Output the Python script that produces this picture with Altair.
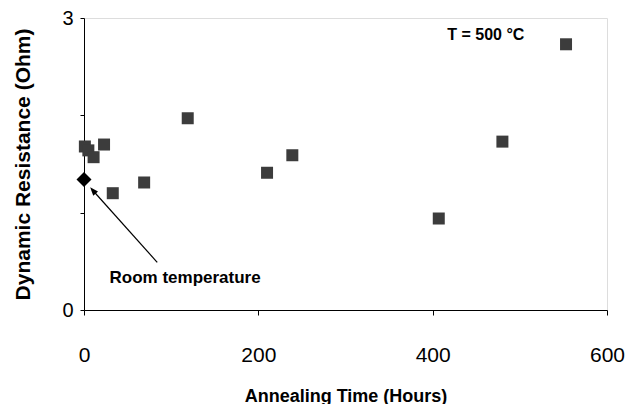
import altair as alt
import pandas as pd

# Annealed samples (T = 500 °C)
hours = [1, 5, 11, 23, 33, 69, 119, 210, 239, 407, 480, 553]
resistance = [1.68, 1.64, 1.57, 1.70, 1.20, 1.31, 1.97, 1.41, 1.59, 0.94, 1.73, 2.73]

# Room temperature reference
rt_hours = [0]
rt_resistance = [1.34]

x_ticks = [0, 200, 400, 600]
y_ticks = [0, 1, 2, 3]

df = pd.DataFrame({"t": hours, "r": resistance})
df_rt = pd.DataFrame({"t": rt_hours, "r": rt_resistance})

xs = alt.Scale(domain=[0, 600], nice=False, zero=False)
ys = alt.Scale(domain=[0, 3], nice=False, zero=False)

FONT = "Liberation Sans"

x_axis = alt.Axis(values=x_ticks, grid=False, labelFontSize=21, labelFont=FONT,
                  labelColor="black", labelPadding=29, tickSize=5, tickColor="black",
                  domainColor="black", titleFontSize=18, titleFont=FONT,
                  titleFontWeight="bold", titleColor="black", titlePadding=22,
                  labelFlush=False, format="d")
y_axis = alt.Axis(values=y_ticks, grid=False, labelFontSize=20, labelFont=FONT,
                  labelColor="black", labelPadding=7, tickSize=4, tickColor="black",
                  domainColor="black", titleFontSize=21, titleFont=FONT,
                  titleFontWeight="bold", titleColor="black", titlePadding=28,
                  labelExpr="datum.value == 0 || datum.value == 3 ? format(datum.value, 'd') : ''",
                  labelFlush=False)

pts = alt.Chart(df).mark_point(shape="square", filled=True, size=144,
                               color="#3c3c3c", opacity=1).encode(
    x=alt.X("t:Q", scale=xs, axis=x_axis, title="Annealing Time (Hours)"),
    y=alt.Y("r:Q", scale=ys, axis=y_axis, title="Dynamic Resistance (Ohm)"),
)

rt = alt.Chart(df_rt).mark_point(shape="diamond", filled=True, size=225,
                                 color="black", opacity=1).encode(
    x=alt.X("t:Q", scale=xs), y=alt.Y("r:Q", scale=ys))

# Arrow annotation (data coordinates)
arrow_df = pd.DataFrame({"t": [84], "r": [0.49], "t2": [11], "r2": [1.22]})
arrow = alt.Chart(arrow_df).mark_rule(color="black", strokeWidth=1.2).encode(
    x=alt.X("t:Q", scale=xs), y=alt.Y("r:Q", scale=ys), x2="t2:Q", y2="r2:Q")
head = alt.Chart(arrow_df).mark_point(
    shape="M0,-1L0.6,0.6L-0.6,0.6Z", filled=True, size=110, color="black",
    opacity=1, angle=319).encode(
    x=alt.X("t2:Q", scale=xs), y=alt.Y("r2:Q", scale=ys))

label_df = pd.DataFrame({"t": [116, 461], "r": [0.33, 2.83],
                         "txt": ["Room temperature", "T = 500 °C"],
                         "fs": [17, 16]})
labels = alt.Chart(label_df).mark_text(font=FONT, fontWeight="bold",
                                       color="black").encode(
    x=alt.X("t:Q", scale=xs), y=alt.Y("r:Q", scale=ys), text="txt:N",
    size=alt.Size("fs:Q", scale=None, legend=None))

chart = alt.layer(arrow, head, pts, rt, labels).properties(
    width=523, height=292,
    autosize=alt.AutoSizeParams(type="none"),
    padding={"left": 76, "top": 10, "right": 20, "bottom": 94},
).configure_view(stroke="#888888", strokeWidth=1).configure(background="white")

chart.save("out.html", embed_options={"renderer": "svg", "actions": False})
